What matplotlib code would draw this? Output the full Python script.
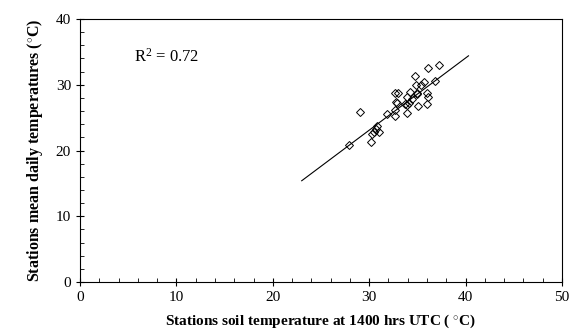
import matplotlib.pyplot as plt
from matplotlib.ticker import MultipleLocator

plt.rcParams['font.family'] = ['Liberation Serif', 'DejaVu Serif']
plt.rcParams['mathtext.fontset'] = 'custom'
plt.rcParams['mathtext.rm'] = 'Liberation Serif'
plt.rcParams['mathtext.bf'] = 'Liberation Serif:bold'
plt.rcParams['mathtext.it'] = 'Liberation Serif:italic'

# station values
soil_temp = [27.9, 29.0, 30.2, 30.3, 30.5, 30.7, 30.8, 31.0, 31.8, 32.7,
             32.7, 32.9, 32.7, 33.0, 32.8, 33.7, 34.1, 33.9, 33.9, 34.2,
             34.4, 34.8, 34.9, 35.0, 35.1, 35.4, 35.7, 36.0, 36.0, 36.1,
             36.1, 36.8, 37.2, 33.9, 35.0]
mean_temp = [20.8, 25.9, 21.3, 22.5, 22.8, 23.2, 23.7, 22.8, 25.6, 26.1,
             25.2, 27.3, 28.7, 28.7, 27.4, 27.1, 27.3, 25.7, 28.1, 28.9,
             27.8, 31.3, 30.0, 28.7, 26.7, 29.9, 30.4, 28.7, 27.0, 32.5,
             28.2, 30.6, 33.0, 26.9, 28.6]

# regression line end points
fit_x = [23.0, 40.3]
fit_y = [15.4, 34.4]
r2_text = r'R$^2$ = 0.72'

fig = plt.figure(figsize=(5.78, 3.34), dpi=100)
ax = fig.add_axes([0.1384, 0.1557, 0.8339, 0.7874])

ax.plot(fit_x, fit_y, color='black', linewidth=0.8)
ax.plot(soil_temp, mean_temp, linestyle='none', marker='D', markersize=3.8,
        markerfacecolor='none', markeredgecolor='black', markeredgewidth=0.7)

ax.text(5.6, 34.2, r2_text, fontsize=12, va='center', ha='left')

ax.set_xlim(0, 50)
ax.set_ylim(0, 40)
ax.xaxis.set_major_locator(MultipleLocator(10))
ax.xaxis.set_minor_locator(MultipleLocator(2))
ax.yaxis.set_major_locator(MultipleLocator(10))
ax.yaxis.set_minor_locator(MultipleLocator(2))
ax.tick_params(which='major', direction='inout', length=6, width=0.8, labelsize=11)
ax.tick_params(which='minor', direction='in', length=3, width=0.6)
for s in ax.spines.values():
    s.set_linewidth(0.8)

ax.set_xlabel(r'Stations soil temperature at 1400 hrs UTC ( $^{\circ}$C)',
              fontsize=11, fontweight='bold', labelpad=6)
ax.set_ylabel(r'Stations mean daily temperatures ($^{\circ}$C)',
              fontsize=11.5, fontweight='bold', labelpad=8)

fig.savefig('out.png', dpi=100)
